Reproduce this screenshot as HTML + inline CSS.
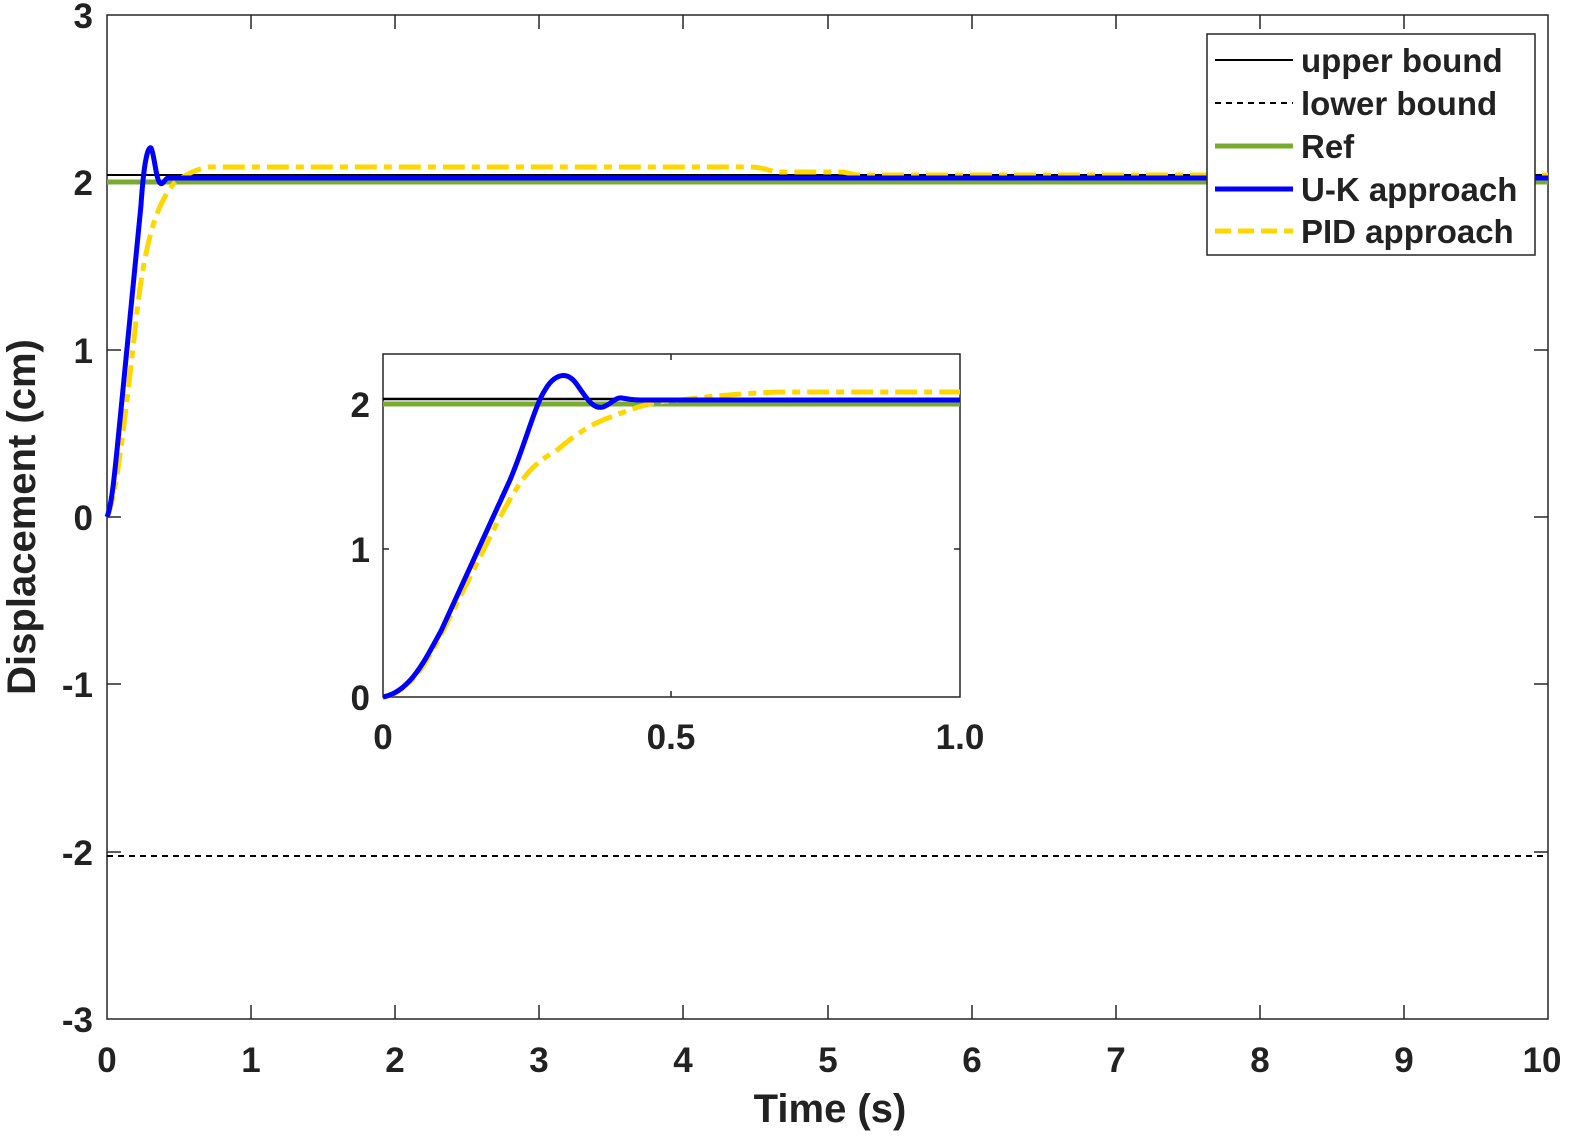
<!DOCTYPE html>
<html><head><meta charset="utf-8"><style>
html,body{margin:0;padding:0;background:#fff;}
svg{display:block;}
text{font-family:"Liberation Sans",Arial,sans-serif;font-weight:bold;fill:#222;}
</style></head><body>
<svg width="1576" height="1144" viewBox="0 0 1576 1144" xmlns="http://www.w3.org/2000/svg">
<rect x="0" y="0" width="1576" height="1144" fill="#fff"/>
<rect x="107" y="15" width="1441" height="1004" fill="none" stroke="#262626" stroke-width="1.5"/>
<g stroke="#262626" stroke-width="1.5">
<path d="M251,1019v-14M395,1019v-14M539,1019v-14M683,1019v-14M828,1019v-14M972,1019v-14M1116,1019v-14M1260,1019v-14M1404,1019v-14
M251,15v14M395,15v14M539,15v14M683,15v14M828,15v14M972,15v14M1116,15v14M1260,15v14M1404,15v14
M107,182h14M107,350h14M107,517h14M107,684h14M107,852h14
M1548,182h-14M1548,350h-14M1548,517h-14M1548,684h-14M1548,852h-14"/>
</g>
<g font-size="35" text-anchor="end">
<text x="93" y="28">3</text><text x="93" y="195">2</text><text x="93" y="363">1</text><text x="93" y="530">0</text>
<text x="93" y="697">-1</text><text x="93" y="865">-2</text><text x="93" y="1032">-3</text>
</g>
<g font-size="35" text-anchor="middle">
<text x="107" y="1072">0</text><text x="251" y="1072">1</text><text x="395" y="1072">2</text><text x="539" y="1072">3</text>
<text x="683" y="1072">4</text><text x="828" y="1072">5</text><text x="972" y="1072">6</text><text x="1116" y="1072">7</text>
<text x="1260" y="1072">8</text><text x="1404" y="1072">9</text><text x="1542" y="1072">10</text>
</g>
<text x="830" y="1122" font-size="40" text-anchor="middle">Time (s)</text>
<text transform="translate(35,517) rotate(-90)" font-size="40" text-anchor="middle">Displacement (cm)</text>

<line x1="107" y1="175" x2="1548" y2="175" stroke="#000" stroke-width="2"/>
<line x1="107" y1="856" x2="1548" y2="856" stroke="#000" stroke-width="2" stroke-dasharray="6,5"/>
<line x1="107" y1="182" x2="1548" y2="182" stroke="#77ac30" stroke-width="5"/>
<path d="M107,517 C115,505 125,420 135,330 C145,230 160,200 175,182 C190,172 200,168 210,167 L750,167 C765,167 770,172 780,172 L840,172 C848,172 852,175 860,175 L1548,175" fill="none" stroke="#ffd700" stroke-width="5" stroke-dasharray="22,7,8,7"/>
<path d="M107,517 C112,505 115,470 120,420 L141,205 C144,160 148,146 151,148 C154,152 156,180 160,183 C163,186 165,178 168,178 L1548,178" fill="none" stroke="#0000ff" stroke-width="5"/>

<rect x="1207" y="34" width="328" height="221" fill="#fff" stroke="#262626" stroke-width="1.5"/>
<line x1="1215" y1="60" x2="1293" y2="60" stroke="#000" stroke-width="2"/>
<line x1="1215" y1="103" x2="1293" y2="103" stroke="#000" stroke-width="2" stroke-dasharray="6,5"/>
<line x1="1215" y1="146" x2="1293" y2="146" stroke="#77ac30" stroke-width="5"/>
<line x1="1215" y1="189" x2="1293" y2="189" stroke="#0000ff" stroke-width="5"/>
<line x1="1215" y1="231" x2="1293" y2="231" stroke="#ffd700" stroke-width="5" stroke-dasharray="16,7"/>
<g font-size="33">
<text x="1301" y="72" fill="#000">upper bound</text>
<text x="1301" y="115" fill="#000">lower bound</text>
<text x="1301" y="158" fill="#000">Ref</text>
<text x="1301" y="201" fill="#000">U-K approach</text>
<text x="1301" y="243" fill="#000">PID approach</text>
</g>

<rect x="383" y="354" width="577" height="343" fill="#fff" stroke="#262626" stroke-width="1.5"/>
<g stroke="#262626" stroke-width="1.5">
<path d="M671,697v-6M671,354v6M383,404h6M383,549h6M960,404h-6M960,549h-6"/>
</g>
<line x1="383" y1="399" x2="960" y2="399" stroke="#000" stroke-width="2.5"/>
<line x1="383" y1="404" x2="960" y2="404" stroke="#77ac30" stroke-width="5"/>
<path d="M383,697 C410,692 425,665 441,635 L498,521 C520,480 530,465 556,451 C580,430 600,420 614,416 C640,405 660,401 671,401 C720,395 760,392 787,392 L960,392" fill="none" stroke="#ffd700" stroke-width="5" stroke-dasharray="22,7,8,7"/>
<path d="M383,697 C410,692 425,660 441,631 L510,480 C525,445 535,405 545,390 C553,376 565,370 575,382 C585,395 592,410 603,407 C612,404 615,397 622,398 C628,399 632,400 640,400 L960,400" fill="none" stroke="#0000ff" stroke-width="5"/>
<g font-size="35" text-anchor="end">
<text x="370" y="417">2</text><text x="370" y="562">1</text><text x="370" y="710">0</text>
</g>
<g font-size="35" text-anchor="middle">
<text x="383" y="749">0</text><text x="671" y="749">0.5</text><text x="960" y="749">1.0</text>
</g>
</svg>
</body></html>
